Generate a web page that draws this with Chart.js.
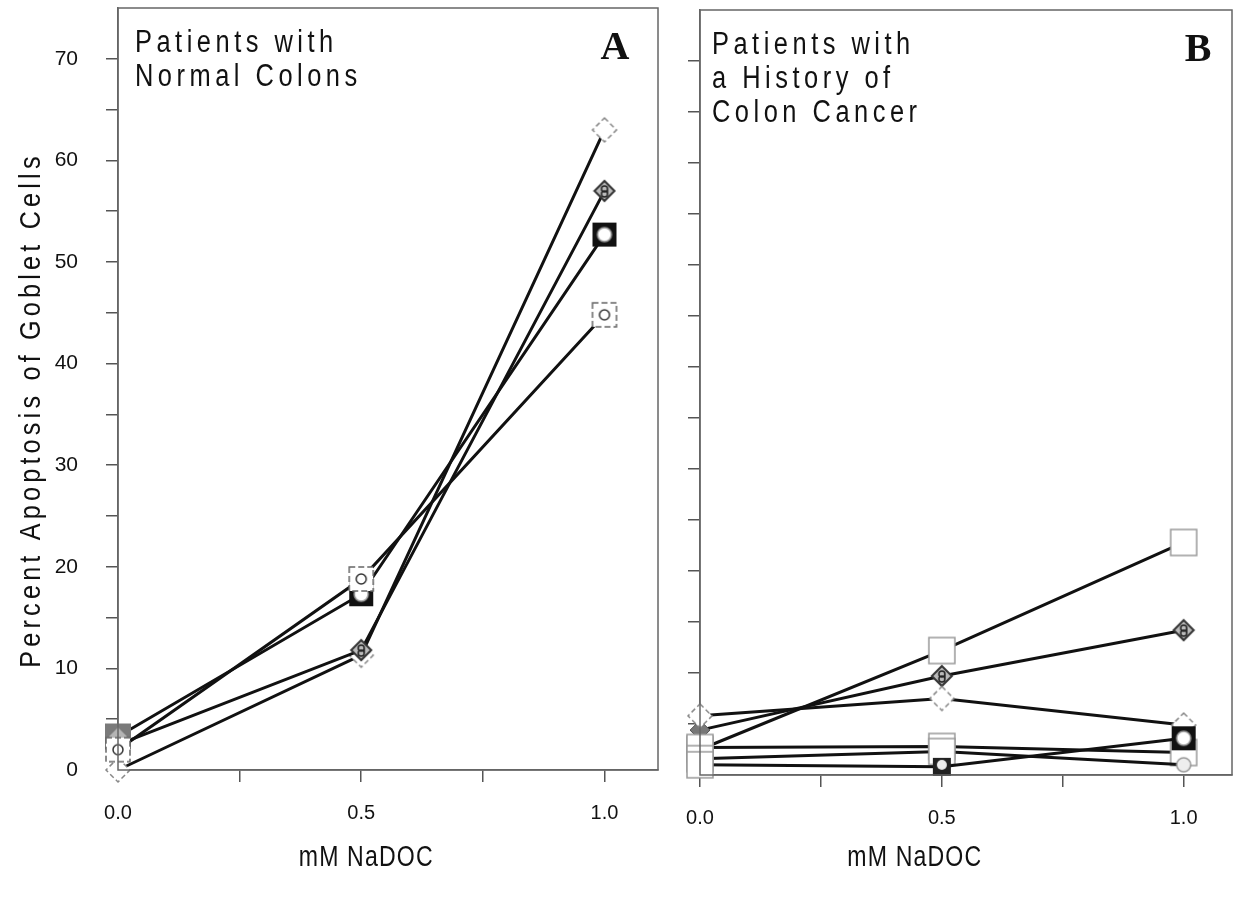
<!DOCTYPE html>
<html>
<head>
<meta charset="utf-8">
<script src="https://cdn.jsdelivr.net/npm/chart.js@4.4.1/dist/chart.umd.min.js"></script>
<style>
  body { margin: 0; background: #fff; }
  #wrapA { position: absolute; left: 0; top: 0; width: 665px; height: 904px; }
  #wrapB { position: absolute; left: 665px; top: 0; width: 581px; height: 904px; }
</style>
</head>
<body>
<div id="wrapA"><canvas id="chartA"></canvas></div>
<div id="wrapB"><canvas id="chartB"></canvas></div>
<script>
// x: bile acid dose, y: percent apoptosis
const doses = [0, 0.5, 1.0];
const xTickValues = [0, 0.25, 0.5, 0.75, 1.0];
const xTickLabels = ["0.0", "", "0.5", "", "1.0"];
const yTickValues = [0, 5, 10, 15, 20, 25, 30, 35, 40, 45, 50, 55, 60, 65, 70];

// panel A - patients with normal colons
const normalOpenDiamond = [0, 11.3, 63];
const normalDotDiamond = [2.5, 11.8, 57];
const normalBlackSquare = [3.3, 17.3, 52.7];
const normalDashSquare = [2.0, 18.8, 44.8];

// panel B - patients with a history of colon cancer
const cancerBigSquare = [2.5, 12.2, 22.8];
const cancerDotDiamond = [4.4, 9.7, 14.2];
const cancerOpenDiamond = [5.8, 7.5, 4.9];
const cancerOpenSquare = [2.7, 2.8, 2.2];
const cancerCircle = [1.6, 2.3, 1.0];
const cancerBlackSquare = [1.0, 0.8, 3.6];

const FONT = '"Liberation Sans", Arial, sans-serif';

function marker(size, draw) {
  const c = document.createElement("canvas");
  c.width = size;
  c.height = size;
  const ctx = c.getContext("2d");
  draw(ctx, size / 2);
  return c;
}

function diamondPath(ctx, m, r) {
  ctx.beginPath();
  ctx.moveTo(m, m - r);
  ctx.lineTo(m + r, m);
  ctx.lineTo(m, m + r);
  ctx.lineTo(m - r, m);
  ctx.closePath();
}

const openDiamond = marker(28, (ctx, m) => {
  diamondPath(ctx, m, 12);
  ctx.fillStyle = "#fff";
  ctx.fill();
  ctx.setLineDash([5, 3]);
  ctx.strokeStyle = "#888";
  ctx.lineWidth = 1.5;
  ctx.stroke();
});

const dotDiamond = marker(24, (ctx, m) => {
  diamondPath(ctx, m, 10);
  ctx.fillStyle = "#bbb";
  ctx.fill();
  ctx.strokeStyle = "#333";
  ctx.lineWidth = 2;
  ctx.stroke();
  ctx.beginPath();
  ctx.arc(m, m - 2, 3, 0, Math.PI * 2);
  ctx.arc(m, m + 3, 3, 0, Math.PI * 2);
  ctx.strokeStyle = "#222";
  ctx.lineWidth = 1.5;
  ctx.stroke();
});

const grayDiamond = marker(24, (ctx, m) => {
  diamondPath(ctx, m, 10);
  ctx.fillStyle = "#777";
  ctx.fill();
  ctx.strokeStyle = "#555";
  ctx.lineWidth = 1;
  ctx.stroke();
});

const blackSquare = marker(26, (ctx, m) => {
  ctx.fillStyle = "#111";
  ctx.fillRect(1, 1, 24, 24);
  ctx.beginPath();
  ctx.arc(m, m, 7, 0, Math.PI * 2);
  ctx.fillStyle = "#fff";
  ctx.fill();
  ctx.strokeStyle = "#999";
  ctx.lineWidth = 1.5;
  ctx.stroke();
});

const smallBlackSquare = marker(20, (ctx, m) => {
  ctx.fillStyle = "#222";
  ctx.fillRect(1, 1, 18, 18);
  ctx.beginPath();
  ctx.arc(m, m - 2, 5, 0, Math.PI * 2);
  ctx.fillStyle = "#eee";
  ctx.fill();
});

const graySquare = marker(28, (ctx, m) => {
  ctx.fillStyle = "#7a7a7a";
  ctx.fillRect(1, 1, 26, 26);
  diamondPath(ctx, m, 9);
  ctx.fillStyle = "#b5b5b5";
  ctx.fill();
});

const dashSquare = marker(28, (ctx, m) => {
  ctx.fillStyle = "#fff";
  ctx.fillRect(2, 2, 24, 24);
  ctx.setLineDash([6, 3]);
  ctx.strokeStyle = "#666";
  ctx.lineWidth = 1.5;
  ctx.strokeRect(2, 2, 24, 24);
  ctx.setLineDash([]);
  ctx.beginPath();
  ctx.arc(m, m, 5, 0, Math.PI * 2);
  ctx.strokeStyle = "#333";
  ctx.lineWidth = 1.5;
  ctx.stroke();
});

const openSquare = marker(30, (ctx) => {
  ctx.fillStyle = "#fff";
  ctx.fillRect(2, 2, 26, 26);
  ctx.strokeStyle = "#999";
  ctx.lineWidth = 1.5;
  ctx.strokeRect(2, 2, 26, 26);
});

const openCircle = marker(18, (ctx, m) => {
  ctx.beginPath();
  ctx.arc(m, m, 7, 0, Math.PI * 2);
  ctx.fillStyle = "#eee";
  ctx.fill();
  ctx.strokeStyle = "#999";
  ctx.lineWidth = 1.5;
  ctx.stroke();
});

function series(values, styles) {
  return {
    data: values.map((v, i) => ({ x: doses[i], y: v })),
    borderColor: "#111",
    borderWidth: 3,
    pointStyle: styles,
    clip: false
  };
}

// narrow, spaced lettering like the typewriter-ish original
function drawText(ctx, text, x, y, o) {
  ctx.save();
  ctx.translate(x, y);
  if (o.rotate) ctx.rotate(o.rotate);
  ctx.scale(o.sx || 1, 1);
  ctx.font = o.font;
  ctx.letterSpacing = (o.ls || 0) + "px";
  ctx.textAlign = o.align || "left";
  ctx.textBaseline = "middle";
  ctx.fillStyle = "#111";
  ctx.fillText(text, 0, 0);
  ctx.restore();
}

// frame round the plot area plus panel texts and axis titles
const panelText = {
  id: "panelText",
  afterDraw(chart, args, opts) {
    const ctx = chart.ctx;
    const a = chart.chartArea;
    ctx.save();
    ctx.strokeStyle = "#666";
    ctx.lineWidth = 1.5;
    ctx.strokeRect(a.left, a.top, a.right - a.left, a.bottom - a.top);
    ctx.restore();

    opts.lines.forEach((t, i) => {
      drawText(ctx, t, a.left + opts.dx, a.top + 35 + i * 34,
        { font: "31px " + FONT, sx: 0.82, ls: 5.5 });
    });
    drawText(ctx, opts.letter, a.right - opts.letterDx, a.top + 41,
      { font: 'bold 40px "Liberation Serif", "Times New Roman", serif', align: "center" });

    const midX = chart.scales.x.getPixelForValue(0.5) + opts.titleDx;
    drawText(ctx, "mM NaDOC", midX, 858,
      { font: "30px " + FONT, sx: 0.77, ls: 1.5, align: "center" });
    if (opts.yTitle) {
      drawText(ctx, opts.yTitle, 32, 410,
        { font: "30px " + FONT, sx: 0.84, ls: 5, align: "center", rotate: -Math.PI / 2 });
    }
  }
};

function buildOptions(cfg) {
  return {
    responsive: true,
    maintainAspectRatio: false,
    animation: false,
    layout: { padding: { top: cfg.top, right: cfg.right, left: 0, bottom: 0 } },
    plugins: {
      legend: { display: false },
      tooltip: { enabled: false },
      panelText: cfg.text
    },
    scales: {
      x: {
        type: "linear",
        min: 0,
        max: cfg.xMax,
        afterBuildTicks: axis => { axis.ticks = xTickValues.map(v => ({ value: v })); },
        afterFit: s => { s.height = cfg.xHeight; },
        ticks: {
          callback: (v, i) => xTickLabels[i],
          font: { family: FONT, size: 20 },
          color: "#111",
          padding: 19,
          maxRotation: 0,
          autoSkip: false
        },
        grid: { drawOnChartArea: false, tickLength: 12, color: "#555", lineWidth: 1.5 },
        border: { color: "#666", width: 1.5 }
      },
      y: {
        min: 0,
        max: 75,
        afterBuildTicks: axis => { axis.ticks = yTickValues.map(v => ({ value: v })); },
        afterFit: s => {
          s.width = cfg.yWidth;
          s.paddingTop = 0;
          s.paddingBottom = 0;
        },
        ticks: {
          callback: v => (cfg.yLabels && v % 10 === 0 ? String(v) : ""),
          font: { family: FONT, size: 21 },
          color: "#111",
          padding: 28
        },
        grid: { drawOnChartArea: false, tickLength: 12, color: "#555", lineWidth: 1.5 },
        border: { color: "#666", width: 1.5 }
      }
    }
  };
}

new Chart(document.getElementById("chartA"), {
  type: "line",
  data: {
    datasets: [
      series(normalDashSquare, dashSquare),
      series(normalBlackSquare, [graySquare, blackSquare, blackSquare]),
      series(normalDotDiamond, [grayDiamond, dotDiamond, dotDiamond]),
      series(normalOpenDiamond, openDiamond)
    ]
  },
  options: buildOptions({
    top: 8, right: 7, xMax: 1.11, xHeight: 134, yWidth: 118, yLabels: true,
    text: {
      lines: ["Patients with", "Normal Colons"], dx: 17, letter: "A", letterDx: 43,
      titleDx: 5, yTitle: "Percent Apoptosis of Goblet Cells"
    }
  }),
  plugins: [panelText]
});

new Chart(document.getElementById("chartB"), {
  type: "line",
  data: {
    datasets: [
      series(cancerBlackSquare, [openSquare, smallBlackSquare, blackSquare]),
      series(cancerCircle, [openSquare, openSquare, openCircle]),
      series(cancerOpenSquare, [openSquare, openSquare, openSquare]),
      series(cancerOpenDiamond, openDiamond),
      series(cancerDotDiamond, [grayDiamond, dotDiamond, dotDiamond]),
      series(cancerBigSquare, [openSquare, openSquare, openSquare])
    ]
  },
  options: buildOptions({
    top: 10, right: 14, xMax: 1.1, xHeight: 129, yWidth: 35, yLabels: false,
    text: {
      lines: ["Patients with", "a History of", "Colon Cancer"], dx: 12, letter: "B", letterDx: 34,
      titleDx: -27, yTitle: null
    }
  }),
  plugins: [panelText]
});
</script>
</body>
</html>
